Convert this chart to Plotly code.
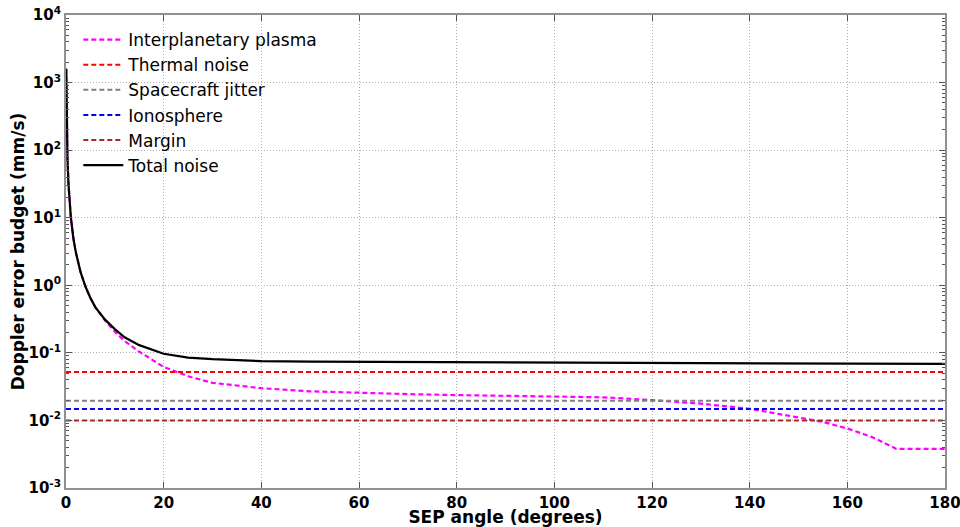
import plotly.graph_objects as go

# SEP angle samples (degrees)
angles = [0.05, 0.1, 0.2, 0.3, 0.5, 0.75, 1, 1.5, 2, 3, 4, 5, 6, 8, 10, 12, 15, 20, 25, 30,
          40, 50, 60, 70, 80, 90, 100, 110, 120, 130, 140, 150, 155, 160, 165, 170, 175, 180]
plasma = [1600, 500, 155, 78, 32, 16, 10, 5.0, 3.1, 1.55, 0.95, 0.65, 0.47, 0.30, 0.205, 0.15,
          0.104, 0.062, 0.045, 0.036, 0.030, 0.027, 0.0255, 0.0245, 0.0237, 0.0232, 0.0228,
          0.022, 0.020, 0.0177, 0.0149, 0.0112, 0.0095, 0.0076, 0.0057, 0.0038, 0.0038, 0.0038]
total = [1600, 500, 155, 78, 32, 16, 10, 5.0, 3.1, 1.55, 0.95, 0.65, 0.475, 0.31, 0.225, 0.17,
         0.13, 0.097, 0.085, 0.0805, 0.0755, 0.074, 0.0735, 0.073, 0.0728, 0.0725, 0.0722,
         0.072, 0.0715, 0.071, 0.0705, 0.070, 0.0698, 0.0695, 0.069, 0.0688, 0.0686, 0.0685]

x_span = [0, 180]
thermal = 0.052
jitter = 0.0196
ionosphere = 0.0148
margin = 0.010

names = ["Interplanetary plasma", "Thermal noise", "Spacecraft jitter", "Ionosphere", "Margin", "Total noise"]
colors = ["magenta", "red", "gray", "blue", "brown", "black"]

y_exponents = [-3, -2, -1, 0, 1, 2, 3, 4]
y_tickvals = [10.0 ** e for e in y_exponents]
y_ticktext = ["<b>10<sup>%d</sup></b>" % e for e in y_exponents]
y_minor = [m * 10.0 ** e for e in y_exponents[:-1] for m in range(2, 10)]

fig = go.Figure()
dash = "5px,3px"
fig.add_trace(go.Scatter(x=angles, y=plasma, mode="lines", name=names[0],
                         line=dict(color=colors[0], width=2.2, dash=dash)))
for nm, val, col in [(names[1], thermal, colors[1]), (names[2], jitter, colors[2]),
                     (names[3], ionosphere, colors[3]), (names[4], margin, colors[4])]:
    fig.add_trace(go.Scatter(x=x_span, y=[val, val], mode="lines", name=nm,
                             line=dict(color=col, width=2, dash=dash)))
fig.add_trace(go.Scatter(x=angles, y=total, mode="lines", name=names[5],
                         line=dict(color=colors[5], width=2.2)))

font_family = "DejaVu Sans"
fig.update_layout(
    width=960, height=527,
    margin=dict(l=66, r=15, t=15, b=39, autoexpand=False),
    paper_bgcolor="white", plot_bgcolor="white",
    font=dict(family=font_family, size=15, color="black"),
    showlegend=True,
    legend=dict(x=0.014, y=0.985, xanchor="left", yanchor="top",
                bgcolor="rgba(0,0,0,0)", font=dict(size=17, family=font_family),
                tracegroupgap=0, itemwidth=40),
)
fig.update_xaxes(
    range=[0, 180], dtick=20, tick0=0, automargin=False,
    showline=True, linecolor="#909090", linewidth=2, mirror="allticks",
    ticks="inside", ticklen=6, tickcolor="#555", ticklabeloverflow="allow",
    showgrid=True, gridcolor="#b0b0b0", griddash="1px,2px", gridwidth=1,
    zeroline=False,
    tickfont=dict(size=15, weight="bold"),
    title=dict(text="SEP angle (degrees)", font=dict(size=17, weight="bold"), standoff=5),
)
fig.update_yaxes(
    type="log", range=[-3, 4], automargin=False,
    tickmode="array", tickvals=y_tickvals, ticktext=y_ticktext,
    showline=True, linecolor="#909090", linewidth=2, mirror="allticks",
    ticks="inside", ticklen=6, tickcolor="#555", ticklabeloverflow="allow",
    minor=dict(tickmode="array", tickvals=y_minor, ticks="inside", ticklen=3,
               tickcolor="#555", showgrid=False),
    showgrid=True, gridcolor="#b0b0b0", griddash="1px,2px", gridwidth=1,
    zeroline=False,
    tickfont=dict(size=15),
    title=dict(text="Doppler error budget (mm/s)", font=dict(size=17, weight="bold"), standoff=0),
)

fig.write_html("out.html", config={"displayModeBar": False},
               post_script="document.body.style.margin='0';document.body.style.padding='0';")
